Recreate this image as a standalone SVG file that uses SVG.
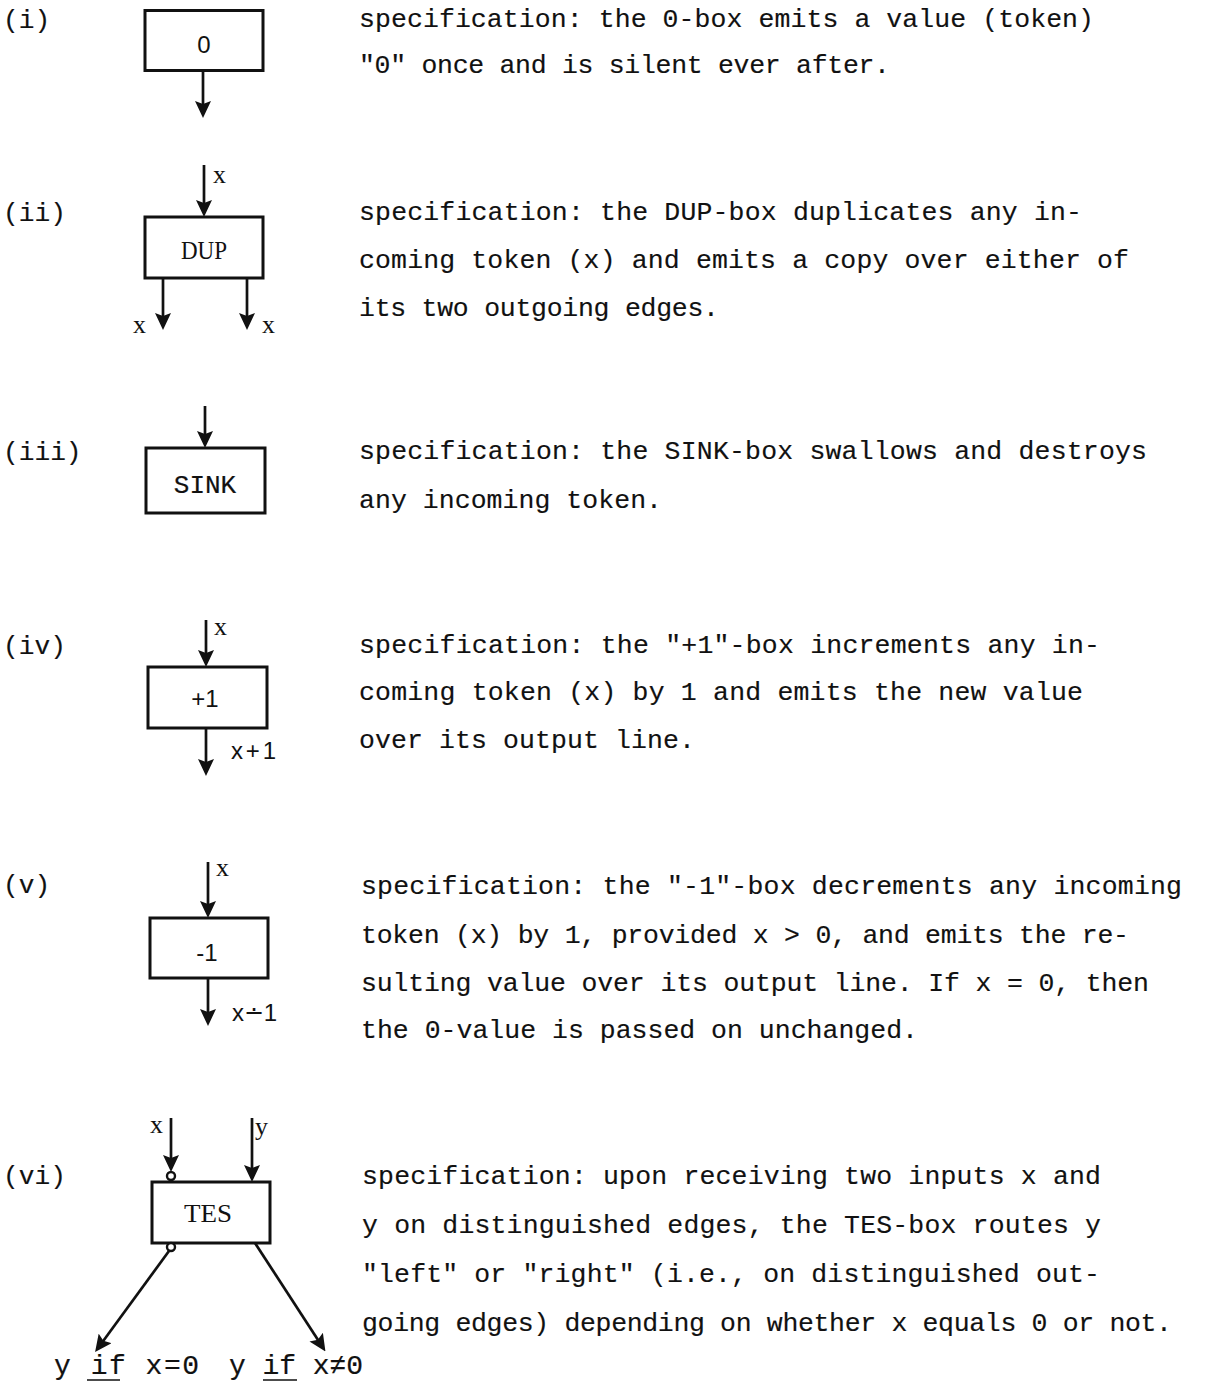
<svg xmlns="http://www.w3.org/2000/svg" width="1210" height="1381" viewBox="0 0 1210 1381">
  <style>
    .box { fill: #fff; stroke: #111; stroke-width: 3; }
    .edge { stroke: #111; stroke-width: 2.7; fill: none; }
    .ring { fill: #fff; stroke: #111; stroke-width: 2.4; }
    .rule { stroke: #111; stroke-width: 1.6; }
    .spec { font-family: "Liberation Mono", "Courier New", monospace; font-size: 26.5px; fill: #111; stroke: #111; stroke-width: 0.15; }
    .num { font-family: "Liberation Mono", "Courier New", monospace; font-size: 26.2px; fill: #111; stroke: #111; stroke-width: 0.15; }
    .mono { font-family: "Liberation Mono", "Courier New", monospace; font-size: 26px; fill: #111; stroke: #111; stroke-width: 0.2; text-anchor: middle; }
    .serif { font-family: "Liberation Serif", "Times New Roman", serif; font-size: 26px; fill: #111; }
    .sans { font-family: "Liberation Sans", Arial, sans-serif; font-size: 24px; fill: #111; }
    .out { font-family: "Liberation Mono", "Courier New", monospace; font-size: 28px; fill: #111; stroke: #111; stroke-width: 0.2; }
  </style>
  <defs>
    <marker id="arrow" viewBox="0 0 17 16" refX="7" refY="8" markerWidth="17" markerHeight="16" markerUnits="userSpaceOnUse" orient="auto">
      <path d="M0,0 L17,8 L0,16 L3,8 z" fill="#111"/>
    </marker>
  </defs>

  <!-- item labels -->
  <g id="labels">
    <text class="num" x="3" y="28">(i)</text>
    <text class="num" x="3" y="221">(ii)</text>
    <text class="num" x="3" y="460">(iii)</text>
    <text class="num" x="3" y="654">(iv)</text>
    <text class="num" x="3" y="893">(v)</text>
    <text class="num" x="3" y="1184">(vi)</text>
  </g>

  <!-- boxes -->
  <g id="zero-box">
    <rect class="box" x="145" y="10.5" width="118" height="60"/>
    <text class="sans" x="204" y="53" text-anchor="middle">0</text>
  </g>
  <g id="dup-box">
    <rect class="box" x="145" y="217" width="118" height="61"/>
    <text class="serif" x="204" y="259" text-anchor="middle" textLength="46" lengthAdjust="spacingAndGlyphs">DUP</text>
  </g>
  <g id="sink-box">
    <rect class="box" x="146" y="448" width="119" height="65"/>
    <text class="mono" x="205" y="493">SINK</text>
  </g>
  <g id="inc-box">
    <rect class="box" x="148" y="667" width="119" height="61"/>
    <text class="sans" x="205" y="707" text-anchor="middle">+1</text>
  </g>
  <g id="dec-box">
    <rect class="box" x="150" y="918" width="118" height="60"/>
    <text class="sans" x="207" y="961" text-anchor="middle">-1</text>
  </g>
  <g id="tes-box">
    <rect class="box" x="152" y="1182" width="118" height="61"/>
    <text class="serif" x="208" y="1222" text-anchor="middle" textLength="48" lengthAdjust="spacingAndGlyphs">TES</text>
  </g>

  <!-- connectors -->
  <g id="connectors">
    <line class="edge" x1="203" y1="71" x2="203" y2="108" marker-end="url(#arrow)"/>

    <line class="edge" x1="204" y1="165" x2="204" y2="207" marker-end="url(#arrow)"/>
    <line class="edge" x1="163" y1="278" x2="163" y2="320" marker-end="url(#arrow)"/>
    <line class="edge" x1="247" y1="278" x2="247" y2="320" marker-end="url(#arrow)"/>

    <line class="edge" x1="205" y1="406" x2="205" y2="438" marker-end="url(#arrow)"/>

    <line class="edge" x1="206" y1="620" x2="206" y2="657" marker-end="url(#arrow)"/>
    <line class="edge" x1="206" y1="728" x2="206" y2="766" marker-end="url(#arrow)"/>

    <line class="edge" x1="208" y1="862" x2="208" y2="908" marker-end="url(#arrow)"/>
    <line class="edge" x1="208" y1="978" x2="208" y2="1016" marker-end="url(#arrow)"/>

    <line class="edge" x1="171" y1="1118" x2="171" y2="1162" marker-end="url(#arrow)"/>
    <circle class="ring" cx="171" cy="1176" r="4"/>
    <line class="edge" x1="252" y1="1118" x2="252" y2="1172" marker-end="url(#arrow)"/>
    <line class="edge" x1="169" y1="1251" x2="101" y2="1344" marker-end="url(#arrow)"/>
    <circle class="ring" cx="171" cy="1247" r="4"/>
    <line class="edge" x1="255" y1="1243" x2="320" y2="1343" marker-end="url(#arrow)"/>
  </g>

  <!-- edge labels -->
  <g id="edge-labels">
    <text class="serif" x="213" y="183">x</text>
    <text class="serif" x="133" y="333">x</text>
    <text class="serif" x="262" y="333">x</text>
    <text class="serif" x="214" y="635">x</text>
    <text class="sans" x="231" y="759" textLength="45" lengthAdjust="spacing">x+1</text>
    <text class="serif" x="216" y="876">x</text>
    <text class="sans" x="232" y="1021" textLength="45" lengthAdjust="spacing">x∸1</text>
    <text class="serif" x="150" y="1133">x</text>
    <text class="serif" x="255" y="1135">y</text>
    <text class="out" x="54" y="1374" textLength="145" lengthAdjust="spacing">y if x=0</text>
    <line class="rule" x1="87" y1="1380" x2="120" y2="1380"/>
    <text class="out" x="229" y="1374" textLength="134" lengthAdjust="spacing">y if x≠0</text>
    <line class="rule" x1="263" y1="1380" x2="297" y2="1380"/>
  </g>

  <!-- specifications -->
  <g id="specs">
    <text class="spec" x="359" y="27" textLength="735">specification: the 0-box emits a value (token)</text>
    <text class="spec" x="359" y="73" textLength="531">"0" once and is silent ever after.</text>

    <text class="spec" x="359" y="220" textLength="723">specification: the DUP-box duplicates any in-</text>
    <text class="spec" x="359" y="268" textLength="770">coming token (x) and emits a copy over either of</text>
    <text class="spec" x="359" y="316" textLength="360">its two outgoing edges.</text>

    <text class="spec" x="359" y="459" textLength="788">specification: the SINK-box swallows and destroys</text>
    <text class="spec" x="359" y="508" textLength="303">any incoming token.</text>

    <text class="spec" x="359" y="653" textLength="741">specification: the "+1"-box increments any in-</text>
    <text class="spec" x="359" y="700" textLength="724">coming token (x) by 1 and emits the new value</text>
    <text class="spec" x="359" y="748" textLength="336">over its output line.</text>

    <text class="spec" x="361" y="894" textLength="821">specification: the "-1"-box decrements any incoming</text>
    <text class="spec" x="361" y="943" textLength="768">token (x) by 1, provided x &gt; 0, and emits the re-</text>
    <text class="spec" x="361" y="991" textLength="788">sulting value over its output line. If x = 0, then</text>
    <text class="spec" x="361" y="1038" textLength="557">the 0-value is passed on unchanged.</text>

    <text class="spec" x="362" y="1184" textLength="739">specification: upon receiving two inputs x and</text>
    <text class="spec" x="362" y="1233" textLength="739">y on distinguished edges, the TES-box routes y</text>
    <text class="spec" x="362" y="1282" textLength="738">"left" or "right" (i.e., on distinguished out-</text>
    <text class="spec" x="362" y="1331" textLength="810">going edges) depending on whether x equals 0 or not.</text>
  </g>
</svg>
